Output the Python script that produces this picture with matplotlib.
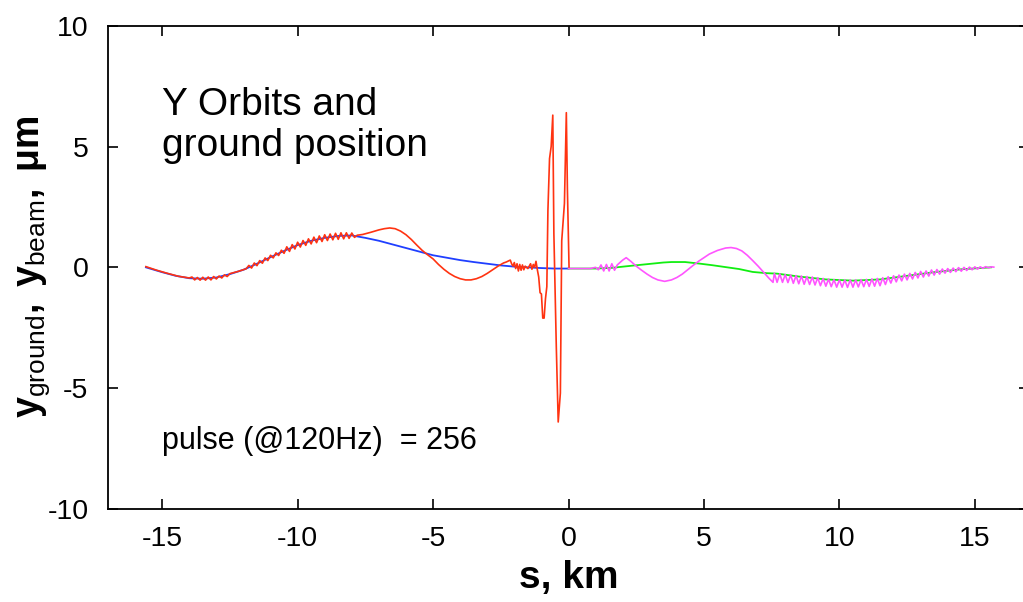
import matplotlib
matplotlib.use("Agg")
import matplotlib.pyplot as plt

# ---------------- data ----------------
ground_left_s = [-15.6, -15.0, -14.5, -14.0, -13.5, -13.0, -12.5, -12.0, -11.5, -11.0,
                 -10.5, -10.0, -9.5, -9.0, -8.5, -8.0, -7.5, -7.0, -6.5, -6.0, -5.5,
                 -5.0, -4.5, -4.0, -3.5, -3.0, -2.5, -2.0, -1.5, -1.0, -0.5, 0.0]
ground_left_y = [0.0, -0.2, -0.35, -0.45, -0.47, -0.42, -0.28, -0.1, 0.15, 0.42,
                 0.68, 0.92, 1.1, 1.22, 1.3, 1.32, 1.22, 1.1, 0.95, 0.8, 0.65,
                 0.5, 0.4, 0.3, 0.22, 0.15, 0.08, 0.03, 0.0, -0.03, -0.05, -0.05]

beam_left_s = [-15.6, -15.2, -14.8, -14.4, -14.0,
               -13.9, -13.8, -13.7, -13.6, -13.5, -13.4, -13.3, -13.2, -13.1, -13.0,
               -12.9, -12.8, -12.7, -12.6, -12.5, -12.2, -11.9,
               -11.8, -11.7, -11.6, -11.5, -11.4, -11.3, -11.2, -11.1, -11.0, -10.9,
               -10.8, -10.7, -10.6, -10.5, -10.4, -10.3, -10.2, -10.1, -10.0, -9.9,
               -9.8, -9.7, -9.6, -9.5, -9.4, -9.3, -9.2, -9.1, -9.0, -8.9,
               -8.8, -8.7, -8.6, -8.5, -8.4, -8.3, -8.2, -8.1, -8.0, -7.9, -7.8,
               -7.6, -7.3, -7.0, -6.8, -6.6, -6.4, -6.2, -6.0, -5.8, -5.6, -5.4,
               -5.2, -5.0, -4.8, -4.6, -4.4, -4.2, -4.0, -3.8, -3.6, -3.4, -3.2,
               -3.0, -2.8, -2.6, -2.4, -2.3, -2.2, -2.15, -2.1,
               -2.05, -2.0, -1.95, -1.9, -1.85, -1.8, -1.75, -1.7, -1.65, -1.6,
               -1.5, -1.4, -1.35, -1.3, -1.25, -1.2, -1.15,
               -1.1, -1.05, -1.0, -0.95, -0.9, -0.85, -0.8, -0.76, -0.7, -0.64,
               -0.58, -0.54, -0.45, -0.38, -0.3, -0.25, -0.15, -0.08, -0.04, 0.02]
beam_left_y = [0.03, -0.12, -0.25, -0.37, -0.44,
               -0.40, -0.52, -0.42, -0.53, -0.41, -0.53, -0.40, -0.52, -0.38, -0.48,
               -0.36, -0.44, -0.31, -0.38, -0.26, -0.17, -0.06,
               0.08, -0.03, 0.18, 0.07, 0.28, 0.17, 0.39, 0.28, 0.50, 0.39,
               0.60, 0.49, 0.71, 0.58, 0.85, 0.66, 0.94, 0.76, 1.04, 0.84,
               1.11, 0.91, 1.18, 0.97, 1.25, 1.02, 1.30, 1.07, 1.35, 1.11,
               1.38, 1.14, 1.41, 1.16, 1.43, 1.18, 1.43, 1.20, 1.42, 1.24, 1.33,
               1.36, 1.45, 1.55, 1.60, 1.63, 1.60, 1.50, 1.35, 1.15, 0.92, 0.70,
               0.52, 0.35, 0.12, -0.08, -0.25, -0.38, -0.47, -0.52, -0.52, -0.47, -0.38,
               -0.25, -0.10, 0.05, 0.18, 0.22, 0.27, 0.30, 0.15,
               0.05, 0.20, -0.05, 0.15, -0.15, 0.12, -0.12, 0.10, -0.10, 0.05,
               -0.05, 0.15, -0.08, 0.12, 0.0, 0.25, -0.10,
               -0.40, -1.05, -1.10, -2.10, -2.10, -1.30, -0.80, 2.35, 4.50, 5.00,
               6.30, 1.40, -3.30, -6.40, -5.20, 1.10, 2.65, 6.40, 3.20, 0.0]

ground_right_s = [0.0, 1.0, 1.6, 2.1, 2.8, 3.5, 3.8, 4.3, 4.8, 5.3, 5.8, 6.3, 6.8,
                  7.3, 7.7, 8.5, 9.5, 10.5, 11.5, 12.5, 13.5, 14.5, 15.6]
ground_right_y = [-0.05, -0.05, -0.02, 0.04, 0.12, 0.20, 0.22, 0.22, 0.16, 0.09, 0.01,
                  -0.07, -0.19, -0.24, -0.26, -0.38, -0.50, -0.55, -0.50, -0.35, -0.20,
                  -0.08, 0.0]

beam_right_s = [0.0, 0.8, 1.0, 1.1, 1.2, 1.3, 1.4, 1.5, 1.6, 1.7, 1.8, 1.9, 2.0, 2.13,
                2.3, 2.5, 2.7, 2.9, 3.1, 3.3, 3.55, 3.8, 4.0, 4.2, 4.4, 4.6, 4.8, 5.0,
                5.2, 5.5, 5.8, 6.0, 6.2, 6.4, 6.6, 6.8, 7.0, 7.2, 7.4, 7.55,
                7.6, 7.7, 7.8, 7.9, 8.0, 8.1, 8.2, 8.3, 8.4, 8.5, 8.6, 8.7, 8.8, 8.9,
                9.0, 9.1, 9.2, 9.3, 9.4, 9.5, 9.6, 9.7, 9.8, 9.9, 10.0, 10.1, 10.2,
                10.3, 10.4, 10.5, 10.6, 10.7, 10.8, 10.9, 11.0, 11.1, 11.2, 11.3,
                11.4, 11.5, 11.6, 11.7, 11.8, 11.9, 12.0, 12.1, 12.2, 12.3, 12.4,
                12.5, 12.6, 12.7, 12.8, 12.9, 13.0, 13.1, 13.2, 13.3, 13.4, 13.5,
                13.6, 13.7, 13.8, 13.9, 14.0, 14.1, 14.2, 14.3, 14.4, 14.5, 14.6,
                14.7, 14.8, 14.9, 15.0, 15.1, 15.2, 15.3, 15.4, 15.5, 15.6, 15.7]
beam_right_y = [-0.05, -0.05, 0.0, -0.10, 0.10, -0.15, 0.12, -0.15, 0.15, -0.12, 0.10,
                0.20, 0.30, 0.40, 0.25, 0.05, -0.12, -0.28, -0.42, -0.52, -0.58, -0.52,
                -0.42, -0.28, -0.10, 0.08, 0.25, 0.40, 0.55, 0.70, 0.80, 0.82, 0.78,
                0.68, 0.50, 0.28, 0.05, -0.20, -0.45, -0.62,
                -0.25, -0.62, -0.27, -0.62, -0.30, -0.63, -0.32, -0.66, -0.34, -0.68,
                -0.36, -0.70, -0.38, -0.71, -0.40, -0.73, -0.43, -0.76, -0.46, -0.78,
                -0.49, -0.80, -0.51, -0.82, -0.52, -0.82, -0.52, -0.83, -0.52, -0.82,
                -0.52, -0.81, -0.51, -0.80, -0.50, -0.79, -0.48, -0.78, -0.46, -0.76,
                -0.43, -0.71, -0.39, -0.65, -0.35, -0.60, -0.32, -0.56, -0.28, -0.52,
                -0.25, -0.48, -0.21, -0.44, -0.17, -0.40, -0.15, -0.36, -0.11, -0.32,
                -0.09, -0.28, -0.07, -0.24, -0.05, -0.21, -0.03, -0.18, -0.01, -0.16,
                0.00, -0.13, 0.01, -0.10, 0.02, -0.07, 0.02, -0.04, 0.03, -0.02,
                0.02, 0.01]

x_ticks = [-15, -10, -5, 0, 5, 10, 15]
y_ticks = [-10, -5, 0, 5, 10]

# ---------------- style ----------------
plt.rcParams['font.family'] = ['Liberation Sans', 'DejaVu Sans']
plt.rcParams['mathtext.fontset'] = 'custom'
plt.rcParams['mathtext.rm'] = 'Liberation Sans'
plt.rcParams['mathtext.bf'] = 'Liberation Sans:bold'
plt.rcParams['mathtext.it'] = 'Liberation Sans:italic'

fig = plt.figure(figsize=(10.23, 6.02), dpi=100)
ax = fig.add_axes([108 / 1023, 1 - 509 / 602, 921 / 1023, (509 - 25.7) / 602])

ax.plot(ground_left_s, ground_left_y, color='#1f3fff', lw=1.3, zorder=2)
ax.plot(beam_left_s, beam_left_y, color='#ff3311', lw=1.2, zorder=3)
ax.plot(ground_right_s, ground_right_y, color='#11ee11', lw=1.3, zorder=2)
ax.plot(beam_right_s, beam_right_y, color='#ff55ff', lw=1.2, zorder=3)

ax.set_xlim(-17, 17)
ax.set_ylim(-10, 10)
ax.set_xticks(x_ticks)
ax.set_yticks(y_ticks)
ax.set_xticklabels([str(v) for v in x_ticks])
ax.set_yticklabels([str(v) for v in y_ticks])

for lab in ax.get_xticklabels() + ax.get_yticklabels():
    lab.set_fontsize(20.5)

ax.tick_params(direction='in', length=7, width=1.2, top=True, right=True,
               colors='black')
ax.tick_params(axis='x', pad=12)
ax.tick_params(axis='y', pad=14)
for sp in ax.spines.values():
    sp.set_linewidth(1.3)

ax.set_xlabel('s, km', fontsize=28, fontweight='bold', labelpad=6)
ax.set_ylabel(r'$\mathbf{y}_{\mathrm{ground}}\mathbf{,\ y}_{\mathrm{beam}}\mathbf{,\ \mu m}$',
              fontsize=27, labelpad=-3)

ax.text(-15.0, 7.45, 'Y Orbits and\nground position', fontsize=28,
        ha='left', va='top', linespacing=1.17)
ax.text(-15.0, -7.5, 'pulse (@120Hz)  = 256', fontsize=22,
        ha='left', va='baseline')

fig.savefig('out.png', dpi=100)
